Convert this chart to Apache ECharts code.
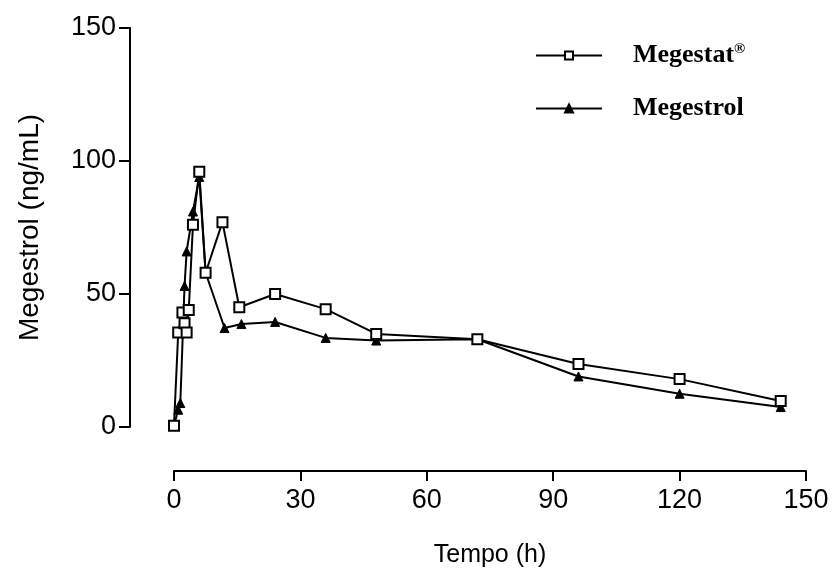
<!DOCTYPE html>
<html>
<head>
<meta charset="utf-8">
<script src="https://cdn.jsdelivr.net/npm/echarts@6/dist/echarts.min.js"></script>
<style>
  html, body { margin: 0; padding: 0; background: #fff; }
  #chart { width: 835px; height: 578px; }
</style>
</head>
<body>
<div id="chart"></div>
<script>
// Sampling times (h) and plasma concentrations (ng/mL)
const megestatTime = [0, 1, 2, 2.5, 3, 3.5, 4.5, 6, 7.5, 11.5, 15.5, 24, 36, 48, 72, 96, 120, 144];
const megestatConc = [0.5, 35.5, 43, 39, 35.5, 44, 76, 96, 58, 77, 45, 50, 44.3, 35, 33, 23.7, 18, 9.8];

const megestrolTime = [0, 1, 1.5, 2.5, 3, 4.5, 6, 7.5, 12, 16, 24, 36, 48, 72, 96, 120, 144];
const megestrolConc = [0.5, 6.5, 9, 53, 66, 81, 94, 58, 37.2, 38.7, 39.5, 33.5, 32.5, 33, 19, 12.5, 7.5];

const xTicks = [0, 30, 60, 90, 120, 150];
const yTicks = [0, 50, 100, 150];

const pairs = (t, v) => t.map((x, i) => [x, v[i]]);

const chart = echarts.init(document.getElementById('chart'), null, { renderer: 'canvas' });

const axisFont = { fontFamily: 'Liberation Sans', fontSize: 27, color: '#000' };

chart.setOption({
  backgroundColor: '#fff',
  animation: false,
  grid: { left: 174, right: 29, top: 28, bottom: 151, containLabel: false },
  legend: {
    orient: 'vertical',
    left: 535,
    top: 42,
    padding: 0,
    itemWidth: 66,
    itemHeight: 10,
    itemGap: 27,
    textStyle: {
      fontFamily: 'Liberation Serif',
      fontWeight: 'bold',
      fontSize: 26,
      color: '#000',
      padding: [0, 0, 0, 26],
      rich: {
        n: { fontFamily: 'Liberation Serif', fontWeight: 'bold', fontSize: 26, color: '#000' },
        s: { fontFamily: 'Liberation Serif', fontWeight: 'bold', fontSize: 15, color: '#000', verticalAlign: 'top', padding: [0, 0, 12, 0] }
      }
    },
    formatter: name => name === 'Megestat' ? '{n|Megestat}{s|®}' : '{n|' + name + '}',
    data: ['Megestat', 'Megestrol']
  },
  xAxis: {
    type: 'value',
    min: xTicks[0],
    max: xTicks[xTicks.length - 1],
    interval: 30,
    offset: 44,
    name: 'Tempo (h)',
    nameLocation: 'middle',
    nameGap: 72,
    nameTextStyle: { fontFamily: 'Liberation Sans', fontSize: 25, color: '#000' },
    axisLine: { show: true, onZero: false, lineStyle: { color: '#000', width: 2 } },
    axisTick: { show: true, length: 10, lineStyle: { color: '#000', width: 2 } },
    axisLabel: Object.assign({ margin: 16 }, axisFont),
    splitLine: { show: false }
  },
  yAxis: {
    type: 'value',
    min: yTicks[0],
    max: yTicks[yTicks.length - 1],
    interval: 50,
    offset: 44,
    name: 'Megestrol (ng/mL)',
    nameLocation: 'middle',
    nameGap: 86,
    nameTextStyle: { fontFamily: 'Liberation Sans', fontSize: 28, color: '#000' },
    axisLine: { show: true, onZero: false, lineStyle: { color: '#000', width: 2 } },
    axisTick: { show: true, length: 11, lineStyle: { color: '#000', width: 2 } },
    axisLabel: Object.assign({ margin: 14 }, axisFont),
    splitLine: { show: false }
  },
  series: [
    {
      name: 'Megestrol',
      type: 'line',
      data: pairs(megestrolTime, megestrolConc),
      symbol: 'triangle',
      symbolSize: 9,
      lineStyle: { color: '#000', width: 2 },
      itemStyle: { color: '#000', borderColor: '#000', borderWidth: 1 },
      z: 2
    },
    {
      name: 'Megestat',
      type: 'line',
      data: pairs(megestatTime, megestatConc),
      symbol: 'rect',
      symbolSize: 10,
      lineStyle: { color: '#000', width: 2 },
      itemStyle: { color: '#fff', borderColor: '#000', borderWidth: 2 },
      z: 3
    }
  ]
});
</script>
</body>
</html>
